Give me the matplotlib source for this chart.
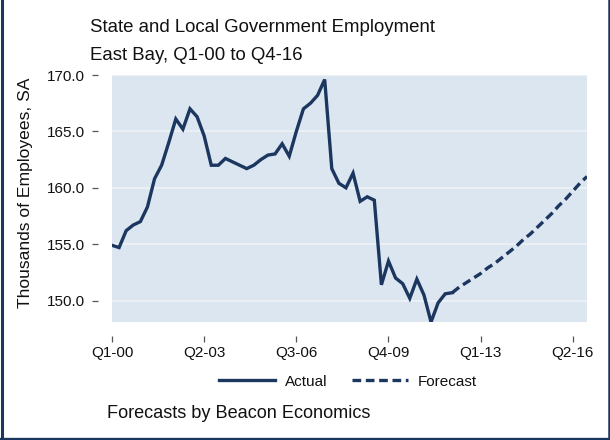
import matplotlib
matplotlib.use("Agg")
import matplotlib.pyplot as plt
from matplotlib.lines import Line2D

plt.rcParams['font.family'] = ['Liberation Sans', 'DejaVu Sans']

# Quarterly index: 0 = Q1-00 ... 67 = Q4-16
actual_values = [154.9, 154.7, 156.2, 156.7, 157.0, 158.3, 160.8, 162.0, 164.0, 166.1,
                 165.2, 167.0, 166.3, 164.6, 162.0, 162.0, 162.6, 162.3, 162.0, 161.7,
                 162.0, 162.5, 162.9, 163.0, 163.9, 162.8, 165.0, 167.0, 167.5, 168.2,
                 169.6, 161.7, 160.4, 160.0, 161.3, 158.8, 159.2, 158.9, 151.4, 153.5,
                 152.0, 151.5, 150.2, 151.9, 150.5, 148.1, 149.8, 150.6, 150.7]
forecast_values = [150.7, 151.2, 151.6, 152.0, 152.4, 152.9, 153.3, 153.8, 154.3, 154.8,
                   155.4, 155.9, 156.5, 157.1, 157.7, 158.4, 159.0, 159.7, 160.4, 161.0]
tick_positions = [0, 13, 26, 39, 52, 65]
tick_labels = ["Q1-00", "Q2-03", "Q3-06", "Q4-09", "Q1-13", "Q2-16"]
y_ticks = [150.0, 155.0, 160.0, 165.0, 170.0]

actual_x = list(range(len(actual_values)))
forecast_start = len(actual_values) - 1
forecast_x = list(range(forecast_start, forecast_start + len(forecast_values)))

navy = "#1b365f"
bg = "#dce6f1"

W, H = 610, 440
fig = plt.figure(figsize=(W / 100, H / 100), dpi=100)
fig.patch.set_facecolor("white")

left, right, top, bottom = 112, 587, 75, 322
ax = fig.add_axes([left / W, 1 - bottom / H, (right - left) / W, (bottom - top) / H])
ax.set_facecolor(bg)
ax.set_xlim(0, 67)
ax.set_ylim(148.1, 170)

for yv in y_ticks:
    ax.axhline(yv, color="#eef3f8", lw=1.2, zorder=1)

ax.plot(actual_x, actual_values, color=navy, lw=2.4, solid_joinstyle="miter",
        zorder=3, label="Actual")
fl, = ax.plot(forecast_x, forecast_values, color=navy, lw=2.4, zorder=3,
              label="Forecast")
fl.set_dashes((2.6, 1.4))

for s in ax.spines.values():
    s.set_visible(False)
ax.spines['left'].set_position(('outward', 10))
ax.spines['bottom'].set_position(('outward', 10))

ax.set_xticks(tick_positions)
ax.set_xticklabels(tick_labels)
ax.set_yticks(y_ticks)
ax.set_yticklabels([f"{v:.1f}" for v in y_ticks])
ax.tick_params(axis='both', direction='out', length=4.3, width=0.9,
               color="#555555", labelsize=11, labelcolor="#111111")
ax.tick_params(axis='y', pad=5.5)
ax.tick_params(axis='x', pad=3)

ax.set_ylabel("Thousands of Employees, SA", fontsize=12.6, color="#111111")
ax.yaxis.set_label_coords(-(112 - 33.5) / (right - left), (322 - 193) / (322 - 75))

fig.text(90 / W, 1 - 31.7 / H, "State and Local Government Employment",
         fontsize=13.4, va="baseline", ha="left", color="#111111")
fig.text(90 / W, 1 - 60 / H, "East Bay, Q1-00 to Q4-16",
         fontsize=13.4, va="baseline", ha="left", color="#111111")

h1 = Line2D([], [], color=navy, lw=2.4)
h2 = Line2D([], [], color=navy, lw=2.4)
h2.set_dashes((2.6, 1.4))
leg = fig.legend([h1, h2], ["Actual", "Forecast"], loc="center",
                 bbox_to_anchor=(348 / W, 1 - 381.7 / H), ncol=2, frameon=False,
                 fontsize=11, handlelength=3.7, handletextpad=0.65,
                 columnspacing=1.55)
for t in leg.get_texts():
    t.set_color("#111111")

fig.text(106.7 / W, 1 - 418 / H, "Forecasts by Beacon Economics",
         fontsize=13.1, va="baseline", ha="left", color="#111111")

# figure frame (left, right, bottom)
fig.add_artist(Line2D([1.5 / W, 1.5 / W], [0, 1], transform=fig.transFigure,
                      color=navy, lw=2.2))
fig.add_artist(Line2D([1 - 1.2 / W, 1 - 1.2 / W], [0, 1], transform=fig.transFigure,
                      color=navy, lw=1.8))
fig.add_artist(Line2D([0, 1], [1.5 / H, 1.5 / H], transform=fig.transFigure,
                      color=navy, lw=2.4))

fig.savefig("out.png", dpi=100)
